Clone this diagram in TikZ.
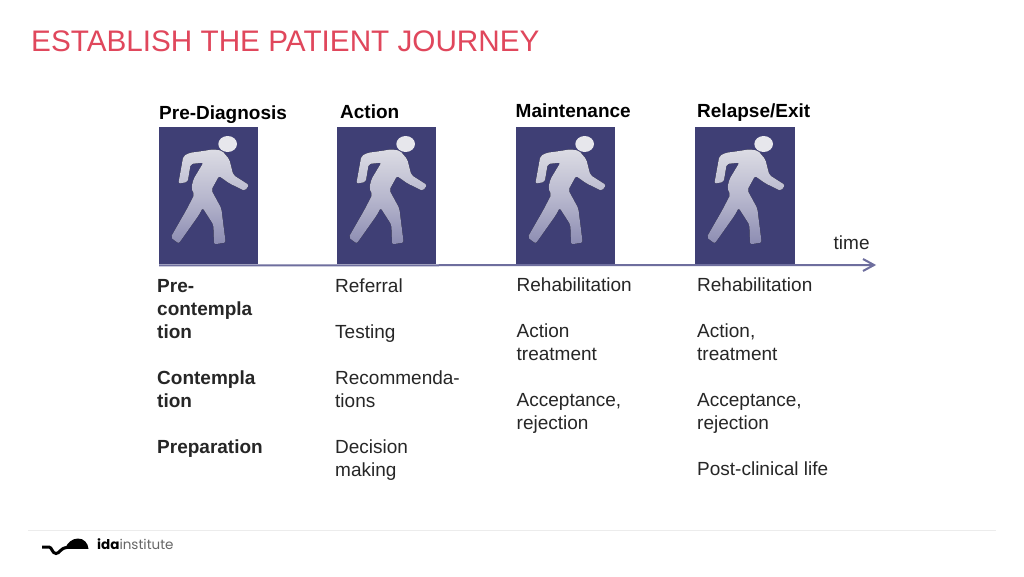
\documentclass[tikz,border=0pt]{standalone}
\usepackage{fontspec}
\setmainfont{Liberation Sans}
\newfontfamily\logofont{Poppins}
\begin{document}
\begin{tikzpicture}[x=1pt,y=-1pt,
  panel/.style={draw=none,fill=panelblue,minimum width=99pt,minimum height=137pt,inner sep=0,anchor=north west},
  head/.style={font=\fontsize{19}{23}\selectfont\bfseries,inner sep=0,anchor=base west},
  col/.style={font=\fontsize{19}{23}\selectfont,inner sep=0,anchor=north west,align=left,text=textgrey},
  colb/.style={col,font=\fontsize{19}{23}\selectfont\bfseries},
  walker/.pic={
    \begin{scope}[x=0.3333pt,y=-0.3333pt]
    \fill[top color=figtop,bottom color=figbot,middle color=figmid,rounded corners=2pt]
      (190,88) .. controls (165,92) and (140,96) .. (120,98) -- (100,108) -- (85,191) -- (113,186) -- (122,132) -- (160,128)
      -- (130,178) -- (124,205) -- (133,224) -- (108,272) -- (62,352) -- (86,371) -- (146,286) -- (158,264)
      -- (190,314) -- (192,373) -- (227,368) -- (214,265) -- (184,210) -- (207,168) -- (238,190) -- (285,213)
      -- (297,195) -- (250,165) -- (238,118) -- (216,92) -- cycle;
    \fill[figtop!70!white] (233,72) ellipse [x radius=28,y radius=24];
    \end{scope}
  }]
\definecolor{panelblue}{HTML}{3F3F75}
\definecolor{figtop}{HTML}{DCDCE4}
\definecolor{figmid}{HTML}{B8B8CE}
\definecolor{figbot}{HTML}{8C8CB2}
\definecolor{axisc}{HTML}{6E6E9E}
\definecolor{titlec}{HTML}{E0475C}
\definecolor{textgrey}{HTML}{262626}
\useasboundingbox (0,0) rectangle (1024,576);
\fill[white] (0,0) rectangle (1024,576);
\node[font=\fontsize{29.7}{36}\selectfont,text=titlec,inner sep=0,anchor=base west] (title) at (31,51) {ESTABLISH THE PATIENT JOURNEY};
\node[head] (h1) at (159,119.5) {Pre-Diagnosis};
\node[head] (h2) at (340,118.5) {Action};
\node[head] (h3) at (515.5,117) {Maintenance};
\node[head] (h4) at (697,117) {Relapse/Exit};
\node[panel] (p1) at (159,127) {};
\node[panel] (p2) at (337,127) {};
\node[panel] (p3) at (516,127) {};
\node[panel,minimum width=100pt] (p4) at (695,127) {};
\path (150,120) pic {walker};
\path (328,120) pic {walker};
\path (507,120) pic {walker};
\path (686,120) pic {walker};
\coordinate (axisend) at (874,265);
\draw[axisc,line width=2pt] (p1.south west) ++(0,1) coordinate (axisstart) -- (axisend);
\draw[axisc,line width=2pt,line join=miter] (863,259) -- (axisend) -- (863,271);
\node[font=\fontsize{19}{23}\selectfont,inner sep=0,anchor=base west,text=textgrey] (time) at (833.5,249) {time};
\node[colb] (c1) at (157,276.5) {\strut Pre-\\contempla\\tion\\ \strut\\[-23pt]\\Contempla\\tion\\ \strut\\[-23pt]\\Preparation};
\node[col] (c2) at (335,276.5) {\strut Referral\\ \strut\\Testing\\ \strut\\Recommenda-\\tions\\ \strut\\Decision\\making};
\node[col] (c3) at (516.5,274.7) {\strut Rehabilitation\\ \strut\\Action\\treatment\\ \strut\\Acceptance,\\rejection};
\node[col] (c4) at (697,274.7) {\strut Rehabilitation\\ \strut\\Action,\\treatment\\ \strut\\Acceptance,\\rejection\\ \strut\\Post-clinical life};
\draw[gray!15,line width=0.8pt] (28,530) -- (996,530);
\fill[black] (65,548.8) .. controls (67,543) and (72,538.5) .. (78,538.5) .. controls (84,538.5) and (88,543) .. (88.5,548.8) -- cycle;
\draw[black,line width=3pt] (42,547) -- (49,547) .. controls (52,547) and (52,553.5) .. (56,553.5) .. controls (60,553.5) and (60,548) .. (67,547.5);
\node[font=\logofont\fontsize{13.5}{16}\selectfont,inner sep=0,anchor=base west,text=black!60] (logo) at (97,549.5) {\textcolor{black}{\textbf{ida}}institute};
\end{tikzpicture}
\end{document}
